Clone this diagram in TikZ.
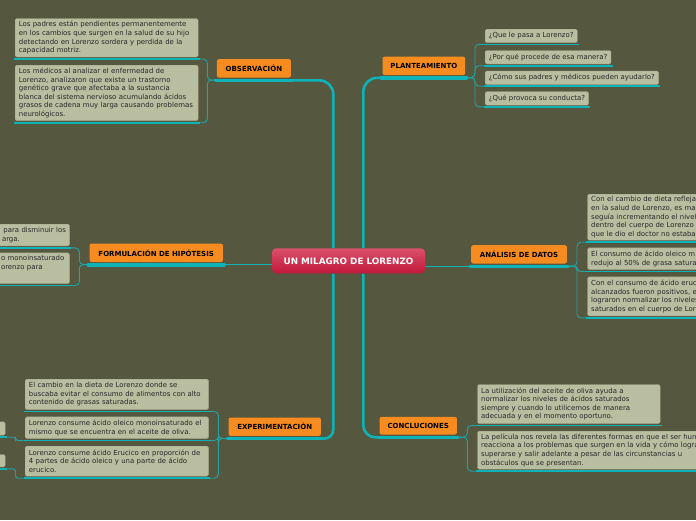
\documentclass[tikz,border=0pt]{standalone}
\usepackage{fontspec}
\setmainfont{DejaVu Sans}
\usetikzlibrary{calc}
\definecolor{bgc}{HTML}{55573F}
\definecolor{orng}{HTML}{F68B1F}
\definecolor{tealbar}{HTML}{0DB3B8}
\definecolor{tealline}{HTML}{23A2A3}
\definecolor{subfill}{HTML}{B9BEA1}
\definecolor{subdraw}{HTML}{A0A488}
\definecolor{subtext}{HTML}{262626}
\definecolor{redtop}{HTML}{D9506A}
\definecolor{redbot}{HTML}{C2173A}
\newcommand\mysubfont{\fontsize{6.95}{8.6}\selectfont}
\newcommand\mybrfont{\fontsize{7}{8}\selectfont\bfseries}
\newcommand\mycenfont{\fontsize{8.8}{10}\selectfont\bfseries}
\pgfdeclarelayer{bg}
\pgfsetlayers{bg,main}
\begin{document}
\begin{tikzpicture}[x=1pt,y=-1pt,
  sub/.style={draw=subdraw, line width=0.4pt, fill=subfill, rounded corners=1.5pt, anchor=north west, inner xsep=3.7pt, inner ysep=0pt, align=left, font=\mysubfont, text=subtext},
  q/.style={sub, minimum height=13.5pt},
  br/.style={fill=orng, rounded corners=2pt, anchor=north west, inner sep=0pt, font=\mybrfont, text=black, minimum height=18.3pt},
  bbar/.style={draw=tealbar, line width=3.6pt, line cap=round},
  sbar/.style={draw=tealbar, line width=1.8pt},
  trunk/.style={draw=tealbar, line width=2.6pt},
  link/.style={draw=tealline, line width=0.9pt, rounded corners=4pt},
  hlink/.style={draw=tealbar, line width=1.1pt},
]
\useasboundingbox (0,0) rectangle (696,520);
\begin{pgfonlayer}{bg}
\fill[bgc] (0,0) rectangle (696,520);
\end{pgfonlayer}

% central topic
\node[rounded corners=4pt, top color=redtop, bottom color=redbot, minimum width=153pt, minimum height=25pt, inner sep=0pt, font=\mycenfont, text=white] (center) at (348.5,260.8) {UN MILAGRO DE LORENZO};

% main branches
\node[br, minimum width=74pt] (obs) at (216.7,59) {OBSERVACIÓN};
\node[br, minimum width=82.7pt] (plan) at (382.3,56.5) {PLANTEAMIENTO};
\node[br, minimum width=133.4pt] (form) at (89.3,243.5) {FORMULACIÓN DE HIPÓTESIS};
\node[br, minimum width=95.7pt] (ana) at (471,245) {ANÁLISIS DE DATOS};
\node[br, minimum width=92.4pt] (exp) at (228.3,417.3) {EXPERIMENTACIÓN};
\node[br, minimum width=77.4pt, minimum height=17.6pt] (conc) at (379.3,416.7) {CONCLUCIONES};
\foreach \b in {obs,plan,form,ana,exp,conc}{
  \draw[bbar] ($(\b.south west)+(-1,2.6)$) coordinate (\b-l) -- ($(\b.south east)+(1,2.6)$) coordinate (\b-r);
}

% OBSERVACION
\node[sub, text width=175.6pt, minimum height=38.5pt] (o1) at (15,18.3) {Los padres están pendientes permanentemente\\en los cambios que surgen en la salud de su hijo\\detectando en Lorenzo sordera y perdida de la\\capacidad motriz.};
\node[sub, text width=175.6pt, minimum height=55.5pt] (o2) at (15,65) {Los médicos al analizar el enfermedad de\\Lorenzo, analizaron que existe un trastorno\\genético grave que afectaba a la sustancia\\blanca del sistema nervioso acumulando ácidos\\grasos de cadena muy larga causando problemas\\neurológicos.};

% PLANTEAMIENTO
\node[q] (q1) at (485,29) {¿Que le pasa a Lorenzo?};
\node[q] (q2) at (485,50.3) {¿Por qué procede de esa manera?};
\node[q] (q3) at (485,70.8) {¿Cómo sus padres y médicos pueden ayudarlo?};
\node[q] (q4) at (485,91.5) {¿Qué provoca su conducta?};

% ANALISIS DE DATOS
\node[sub, text width=200pt, minimum height=46pt] (a1) at (587.3,194) {Con el cambio de dieta reflejado\\en la salud de Lorenzo, es mas\\seguía incrementando el nivel\\dentro del cuerpo de Lorenzo\\que le dio el doctor no estaba};
\node[sub, text width=200pt, minimum height=21.6pt] (a2) at (587.3,247.7) {El consumo de ácido oleico m\\redujo al 50\% de grasa saturada};
\node[sub, text width=200pt, minimum height=39pt] (a3) at (587.3,276.7) {Con el consumo de ácido erucico\\alcanzados fueron positivos, e\\lograron normalizar los niveles\\saturados en el cuerpo de Lorenzo};

% FORMULACION DE HIPOTESIS
\node[sub, text width=65.4pt, minimum height=21.7pt] (f1) at (-3.5,224) {\mbox{\hspace*{3pt}para disminuir los}\\\mbox{\hspace*{1.6pt}arga.}};
\node[sub, text width=65.4pt, minimum height=30.6pt] (f2) at (-3.5,252.7) {\mbox{\hspace*{0.6pt}o monoinsaturado}\\\mbox{\hspace*{0.6pt}orenzo para}\\\strut};

% EXPERIMENTACION
\node[sub, text width=175.9pt, minimum height=30.3pt] (e1) at (25,379) {El cambio en la dieta de Lorenzo donde se\\buscaba evitar el consumo de alimentos con alto\\contenido de grasas saturadas.};
\node[sub, text width=175.9pt, minimum height=21.6pt] (e2) at (25,416.7) {Lorenzo consume ácido oleico monoinsaturado el\\mismo que se encuentra en el aceite de oliva.};
\node[sub, text width=175.9pt, minimum height=30pt] (e3) at (25,446) {Lorenzo consume ácido Erucico en proporción de\\4 partes de ácido oleico y una parte de ácido\\erucico.};
\node[sub, minimum width=45pt, minimum height=13.3pt] (s1) at (-40,421.7) {};
\node[sub, minimum width=45pt, minimum height=12.4pt] (s2) at (-40,454.3) {};

% CONCLUCIONES
\node[sub, text width=175.3pt, minimum height=39pt] (c1) at (477.3,384.3) {La utilización del aceite de oliva ayuda a\\normalizar los niveles de ácidos saturados\\siempre y cuando lo utilicemos de manera\\adecuada y en el momento oportuno.};
\node[sub, text width=240pt, minimum height=38pt] (c2) at (477.3,431) {La película nos revela las diferentes formas en que el ser humano\\reacciona a los problemas que surgen en la vida y cómo logran\\superarse y salir adelante a pesar de las circunstancias u\\obstáculos que se presentan.};

% underlines of subtopics
\foreach \s in {o1,o2,a1,a2,a3,f1,f2,e1,e2,e3,s1,s2,c1,c2}{
  \draw[sbar] ($(\s.south west)+(-1.5,1.8)$) coordinate (\s-l) -- ($(\s.south east)+(1.5,1.8)$) coordinate (\s-r);
}
\foreach \s in {q1,q2,q3,q4}{
  \draw[sbar] ($(\s.south west)+(-1.5,1.5)$) coordinate (\s-l) -- ($(\s.south east)+(1.5,1.5)$) coordinate (\s-r);
}

% bracket points
\coordinate (obsB) at (207.3,79.9);
\coordinate (planB) at (475,77.4);
\coordinate (anaB) at (577,265.9);
\coordinate (formB) at (79.3,264.4);
\coordinate (expB) at (218.3,438.3);
\coordinate (concB) at (467.3,437.3);

\begin{pgfonlayer}{bg}
% trunk from central topic
\draw[trunk, rounded corners=14pt] ($(center.north)+(-15.2,0)$) |- (obs-r);
\draw[trunk, rounded corners=9pt] ($(center.south)+(-15.2,0)$) |- (exp-r);
\draw[trunk, rounded corners=14pt] ($(center.north)+(14.8,0)$) |- (plan-l);
\draw[trunk, rounded corners=12pt] ($(center.south)+(14.8,0)$) |- (conc-l);
\draw[hlink] (form-r) -- (form-r -| center.west);
\draw[hlink] (ana-l) -- (ana-l -| center.east);
% subtopic connectors
\foreach \c in {o1,o2}{\draw[link] (obs-l) -- (obsB) |- (\c-r);}
\foreach \c in {q1,q2,q3,q4}{\draw[link] (plan-r) -- (planB) |- (\c-l);}
\foreach \c in {a1,a2,a3}{\draw[link] (ana-r) -- (anaB) |- (\c-l);}
\foreach \c in {f1,f2}{\draw[link] (form-l) -- (formB) |- (\c-r);}
\foreach \c in {e1,e2,e3}{\draw[link] (exp-l) -- (expB) |- (\c-r);}
\foreach \c in {c1,c2}{\draw[link] (conc-r) -- (concB) |- (\c-l);}
\draw[link, rounded corners=2.5pt] (e2-l) -- ++(-8,0) |- (s1-r);
\draw[link, rounded corners=2.5pt] (e3-l) -- ++(-8,0) |- (s2-r);
\end{pgfonlayer}
\end{tikzpicture}
\end{document}
